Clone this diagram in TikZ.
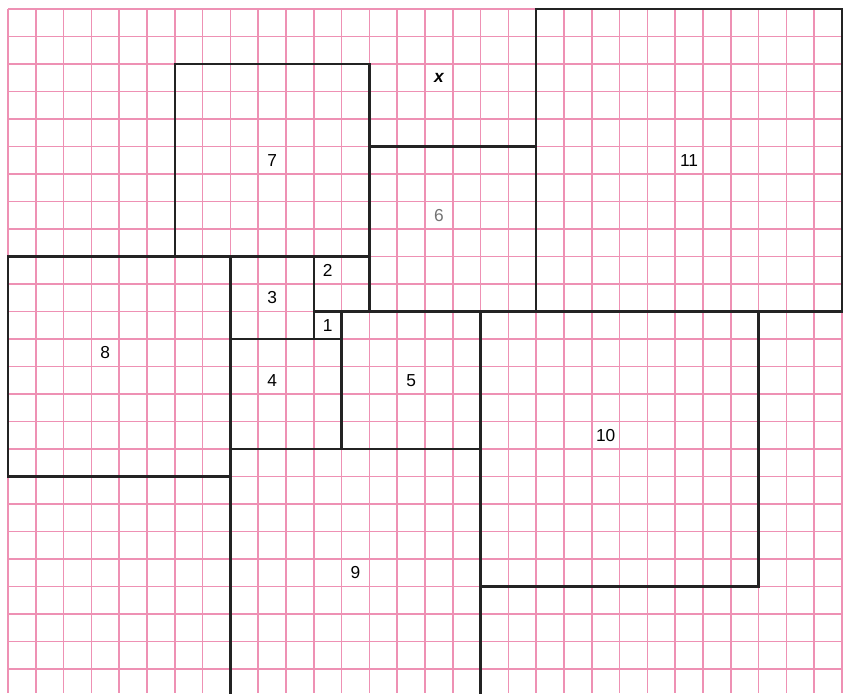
\documentclass[tikz,border=0pt]{standalone}
\usepackage{fontspec}
\setmainfont{Liberation Sans}
\definecolor{gridpink}{RGB}{238,145,180}
\definecolor{edge}{RGB}{35,35,35}
\begin{document}
\begin{tikzpicture}[x=20.85pt,y=-20.625pt,
  gridline/.style={gridpink,line width=1.3pt},
  sq/.style={draw=edge,line width=1.9pt,line join=miter},
  lab/.style={font=\fontsize{13}{15}\selectfont,text=black,inner sep=0pt}]
\useasboundingbox (-0.2878,-0.3273) rectangle (30.288,24.873);
% grid
\foreach \k in {0,...,30} \draw[gridline] (\k,0) -- (\k,24.873);
\foreach \j in {0,...,24} \draw[gridline] (0,\j) -- (30,\j);
% squares
\draw[sq] (19,0) rectangle (30,11);
\draw[sq] (6,2) rectangle (13,9);
\draw[sq] (13,5) rectangle (19,11);
\draw[sq] (0,9) rectangle (8,17);
\draw[sq] (8,9) rectangle (11,12);
\draw[sq] (11,9) rectangle (13,11);
\draw[sq] (11,11) rectangle (12,12);
\draw[sq] (8,12) rectangle (12,16);
\draw[sq] (12,11) rectangle (17,16);
\draw[sq] (17,11) rectangle (27,21);
\draw[sq] (8,24.9) -- (8,16) -- (17,16) -- (17,24.9);
% labels
\node[lab] (lx) at (15.5,2.5) {\bfseries\itshape x};
\node[lab] (l7) at (9.5,5.5) {7};
\node[lab,text=black!55] (l6) at (15.5,7.5) {6};
\node[lab] (l11) at (24.5,5.5) {11};
\node[lab] (l2) at (11.5,9.5) {2};
\node[lab] (l3) at (9.5,10.5) {3};
\node[lab] (l1) at (11.5,11.5) {1};
\node[lab] (l8) at (3.5,12.5) {8};
\node[lab] (l4) at (9.5,13.5) {4};
\node[lab] (l5) at (14.5,13.5) {5};
\node[lab] (l10) at (21.5,15.5) {10};
\node[lab] (l9) at (12.5,20.5) {9};
\end{tikzpicture}
\end{document}
